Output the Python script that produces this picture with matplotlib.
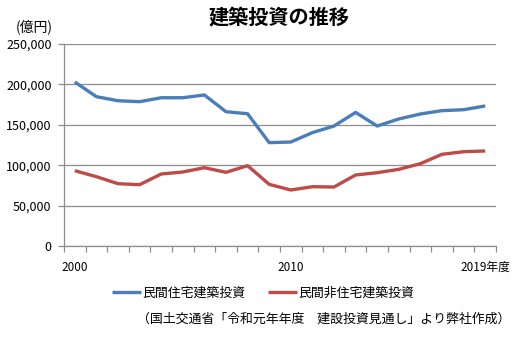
import matplotlib
matplotlib.use("Agg")
import matplotlib.pyplot as plt
import numpy as np
from matplotlib.ticker import FuncFormatter, FixedLocator

plt.rcParams['font.family'] = ['Noto Sans CJK JP', 'DejaVu Sans']

# fiscal years 2000-2019, unit: 100 million yen
years = list(range(2000, 2020))
residential = [203000, 184800, 179800, 178600, 183500, 183500, 186900, 166200, 163700, 127900,
               128700, 140300, 148500, 165300, 148500, 157200, 163400, 167500, 168700, 173300]
non_residential = [93200, 85800, 77100, 75900, 89100, 91600, 96900, 91200, 99400, 76300,
                   69300, 73400, 73000, 87900, 90700, 94900, 101900, 113500, 116700, 117600]
year_labels = {0: "2000", 10: "2010", 19: "2019年度"}

BLUE = "#4a7ebb"
RED = "#be4b48"
GRID = "#8c8c8c"

fig = plt.figure(figsize=(5.32, 3.48), dpi=100)
ax = fig.add_axes([64 / 532, 1 - 246 / 348, 432 / 532, 202 / 348])

x = np.arange(len(years))
ax.plot(x, residential, color=BLUE, lw=2.4, label="民間住宅建築投資", solid_capstyle="butt")
ax.plot(x, non_residential, color=RED, lw=2.4, label="民間非住宅建築投資", solid_capstyle="butt")

ax.set_xlim(-0.5, len(years) - 0.5)
ax.set_ylim(0, 250000)
ax.set_yticks(np.arange(0, 250001, 50000))
ax.yaxis.set_major_formatter(FuncFormatter(lambda v, p: f"{int(v):,}"))
ax.grid(axis="y", color=GRID, lw=0.9)
ax.set_axisbelow(True)

# category boundaries get the tick marks, labels sit on the category centres
ax.xaxis.set_minor_locator(FixedLocator(np.arange(-0.5, len(years), 1.0)))
ax.set_xticks(list(year_labels.keys()))
ax.set_xticklabels(list(year_labels.values()))
ax.tick_params(axis="x", which="major", length=0, pad=11, labelsize=8.5)
ax.tick_params(axis="x", which="minor", length=4, width=0.9, color=GRID, direction="out")
ax.tick_params(axis="y", length=4, width=0.9, color=GRID, pad=5, labelsize=9)

for s in ["top", "right"]:
    ax.spines[s].set_visible(False)
for s in ["left", "bottom"]:
    ax.spines[s].set_color(GRID)
    ax.spines[s].set_linewidth(0.9)

fig.text(279 / 532, 1 - 18 / 348, "建築投資の推移", ha="center", va="center",
         fontsize=14.5, fontweight="bold")
fig.text(34 / 532, 1 - 27 / 348, "(億円)", ha="center", va="center", fontsize=10)

fig.legend(loc="center", bbox_to_anchor=(263 / 532, 1 - 293 / 348), ncol=2, frameon=False,
           fontsize=9.3, handlelength=2.3, handletextpad=0.1, columnspacing=1.7)

fig.text(510 / 532, 1 - 319 / 348, "（国土交通省「令和元年年度　建設投資見通し」より弊社作成）",
         ha="right", va="center", fontsize=9.3)

fig.savefig("out.png", dpi=100)
